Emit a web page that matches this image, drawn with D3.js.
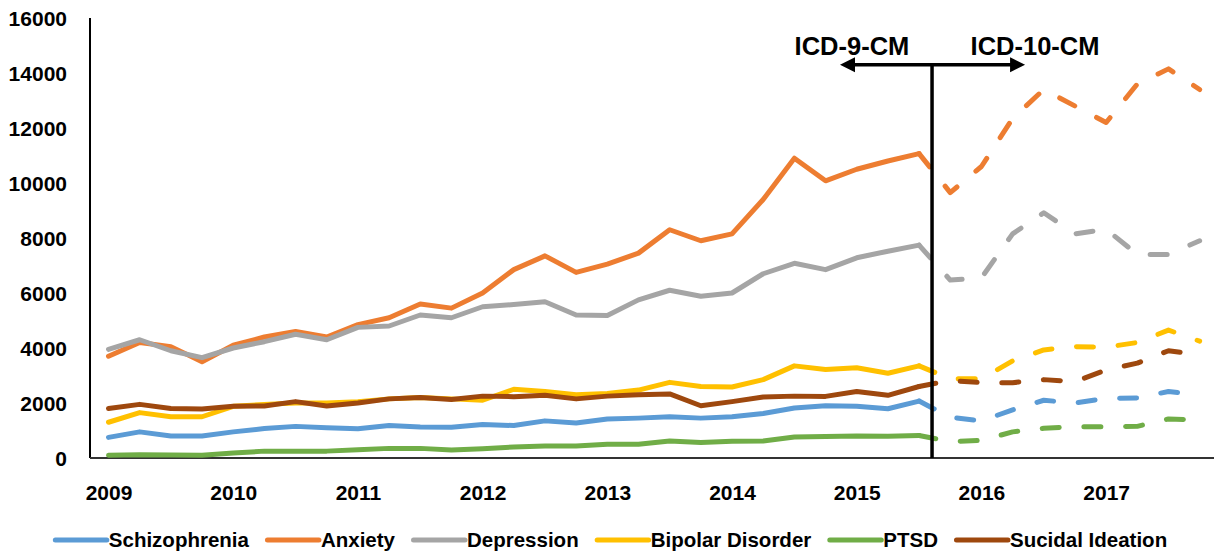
<!DOCTYPE html>
<html><head><meta charset="utf-8">
<script src="https://cdn.jsdelivr.net/npm/d3@7"></script>
<style>
body{margin:0;background:#fff;}
svg{display:block;}
text{font-family:"Liberation Sans",Arial,sans-serif;font-weight:bold;fill:#000;}
</style>
</head><body>
<svg id="chart" width="1214" height="552"></svg>
<script>
// ---------- data ----------
const periods = [
 "2009 Q1","2009 Q2","2009 Q3","2009 Q4","2010 Q1","2010 Q2","2010 Q3","2010 Q4",
 "2011 Q1","2011 Q2","2011 Q3","2011 Q4","2012 Q1","2012 Q2","2012 Q3","2012 Q4",
 "2013 Q1","2013 Q2","2013 Q3","2013 Q4","2014 Q1","2014 Q2","2014 Q3","2014 Q4",
 "2015 Q1","2015 Q2","2015 Q3","2015 Q4","2016 Q1","2016 Q2","2016 Q3","2016 Q4",
 "2017 Q1","2017 Q2","2017 Q3","2017 Q4"];

const seriesNames = ["Schizophrenia","Anxiety","Depression","Bipolar Disorder","PTSD","Sucidal Ideation"];
const seriesColors = ["#5B9BD5","#ED7D31","#A5A5A5","#FFC000","#70AD47","#9E480E"];

const schizophrenia = [750,950,800,800,950,1070,1150,1100,1060,1180,1130,1120,1220,1180,1350,1270,1420,1450,1500,1450,1500,1620,1820,1900,1880,1790,2070,
  1480,1350,1750,2100,2000,2170,2180,2420,2300];
const anxiety = [3700,4200,4050,3500,4100,4400,4600,4400,4850,5100,5600,5450,6000,6850,7350,6750,7050,7450,8300,7900,8150,9400,10900,10080,10500,10800,11070,
  9650,10600,12350,13400,12800,12200,13600,14150,13400];
const depression = [3950,4300,3900,3650,4000,4230,4500,4300,4750,4800,5200,5100,5500,5580,5680,5200,5180,5750,6100,5880,6000,6700,7080,6850,7280,7520,7740,
  6470,6550,8150,8920,8150,8320,7400,7400,7900];
const bipolar = [1300,1650,1500,1500,1880,1950,2000,2000,2050,2150,2200,2150,2100,2500,2420,2300,2350,2470,2750,2600,2580,2850,3350,3220,3280,3080,3350,
  2880,2880,3530,3930,4050,4030,4200,4650,4250];
const ptsd = [100,120,110,100,180,250,250,250,300,350,350,290,340,400,440,440,500,500,620,560,610,620,760,780,800,790,820,
  600,640,950,1080,1140,1140,1150,1420,1380];
const suicidal = [1800,1950,1800,1780,1880,1890,2050,1890,2000,2150,2200,2130,2250,2230,2280,2150,2250,2300,2330,1900,2050,2220,2250,2240,2420,2280,2600,
  2820,2740,2740,2850,2780,3200,3450,3900,3750];

const yearTicks = [2009,2010,2011,2012,2013,2014,2015,2016,2017];
const valueTicks = [0,2000,4000,6000,8000,10000,12000,14000,16000];

// ICD transition annotation (data units)
const transitionYear = 2015.604;
const codingLabels = ["ICD-9-CM","ICD-10-CM"];
const codingLabelYears = [2014.962, 2016.43];
const arrowEndYears = [2014.866, 2016.35];
const arrowValue = 14300;
const labelValue = 14650;

// ---------- chart ----------
const W = 1214, H = 552;
const svg = d3.select("#chart");
const x = d3.scaleLinear().domain([2008.8516, 2017.865]).range([90, 1214]);
const y = d3.scaleLinear().domain([0, 16000]).range([458, 18]);
const t = periods.map(p => +p.slice(0,4) + (+p.slice(6) - 1) / 4);

const allSeries = [schizophrenia, anxiety, depression, bipolar, ptsd, suicidal];
const vx = x(transitionYear);

// y axis labels
const yAxis = d3.axisLeft(y).tickValues(valueTicks).tickSize(0).tickPadding(0).tickFormat(d3.format("d"));
const gy = svg.append("g").attr("transform","translate(67,0)").call(yAxis);
gy.select(".domain").remove();
gy.selectAll("text").attr("font-size",21).attr("font-family",null).attr("dy","0.36em");

// x axis labels
const xAxis = d3.axisBottom(x).tickValues(yearTicks).tickSize(0).tickPadding(0).tickFormat(d3.format("d"));
const gx = svg.append("g").attr("transform","translate(0,485)").call(xAxis);
gx.select(".domain").remove();
gx.selectAll("text").attr("font-size",21).attr("font-family",null).attr("dy","0.71em");

// axis lines
svg.append("line").attr("x1",x.range()[0]).attr("x2",x.range()[0]).attr("y1",y(16000)).attr("y2",y(0))
  .attr("stroke","#000").attr("stroke-width",2);
svg.append("line").attr("x1",x.range()[0]).attr("x2",x.range()[1]).attr("y1",y(0)).attr("y2",y(0))
  .attr("stroke","#333").attr("stroke-width",2);

const line = d3.line().x(d => x(d[0])).y(d => y(d[1]));
const splitIdx = 26; // last ICD-9-CM quarter (2015 Q3)

// solid lines (ICD-9-CM period)
allSeries.forEach((vals, k) => {
  const pts = vals.map((v,i) => [t[i], v]).slice(0, splitIdx + 1);
  svg.append("path").attr("d", line(pts)).attr("fill","none")
    .attr("stroke", seriesColors[k]).attr("stroke-width",5)
    .attr("stroke-linejoin","round").attr("stroke-linecap","round");
});
// dashed lines (ICD-10-CM period)
allSeries.forEach((vals, k) => {
  const pts = vals.map((v,i) => [t[i], v]).slice(splitIdx);
  svg.append("path").attr("d", line(pts)).attr("fill","none")
    .attr("stroke", seriesColors[k]).attr("stroke-width",5)
    .attr("stroke-dasharray","17,24.7")
    .attr("stroke-linejoin","round").attr("stroke-linecap","round");
});

// transition line and arrows
const ay = y(arrowValue);
svg.append("line").attr("x1",vx).attr("x2",vx).attr("y1",ay).attr("y2",y(0))
  .attr("stroke","#000").attr("stroke-width",3.5);
const xl = x(arrowEndYears[0]), xr = x(arrowEndYears[1]);
svg.append("line").attr("x1",xl+12).attr("x2",xr-12).attr("y1",ay).attr("y2",ay)
  .attr("stroke","#000").attr("stroke-width",3.5);
svg.append("path").attr("d",`M${xl},${ay} L${xl+15},${ay-7.5} L${xl+15},${ay+7.5} Z`).attr("fill","#000");
svg.append("path").attr("d",`M${xr},${ay} L${xr-15},${ay-7.5} L${xr-15},${ay+7.5} Z`).attr("fill","#000");
codingLabels.forEach((lab,i) => {
  svg.append("text").attr("x", x(codingLabelYears[i])).attr("y", y(labelValue))
    .attr("text-anchor","middle").attr("font-size",25.5).text(lab);
});

// legend
const leg = svg.append("g");
let cx = 0;
seriesNames.forEach((name,k) => {
  const g = leg.append("g");
  g.append("line").attr("x1",2.5).attr("x2",54).attr("y1",0).attr("y2",0)
    .attr("stroke",seriesColors[k]).attr("stroke-width",5).attr("stroke-linecap","round");
  const tx = g.append("text").attr("x",56).attr("y",0).attr("dy","0.36em").attr("font-size",20.5).text(name);
  const w = 56 + tx.node().getComputedTextLength();
  g.attr("transform",`translate(${cx},0)`);
  cx += w + 16;
});
const totalW = cx - 16;
leg.attr("transform",`translate(${610 - totalW/2},540)`);
</script>
</body></html>
